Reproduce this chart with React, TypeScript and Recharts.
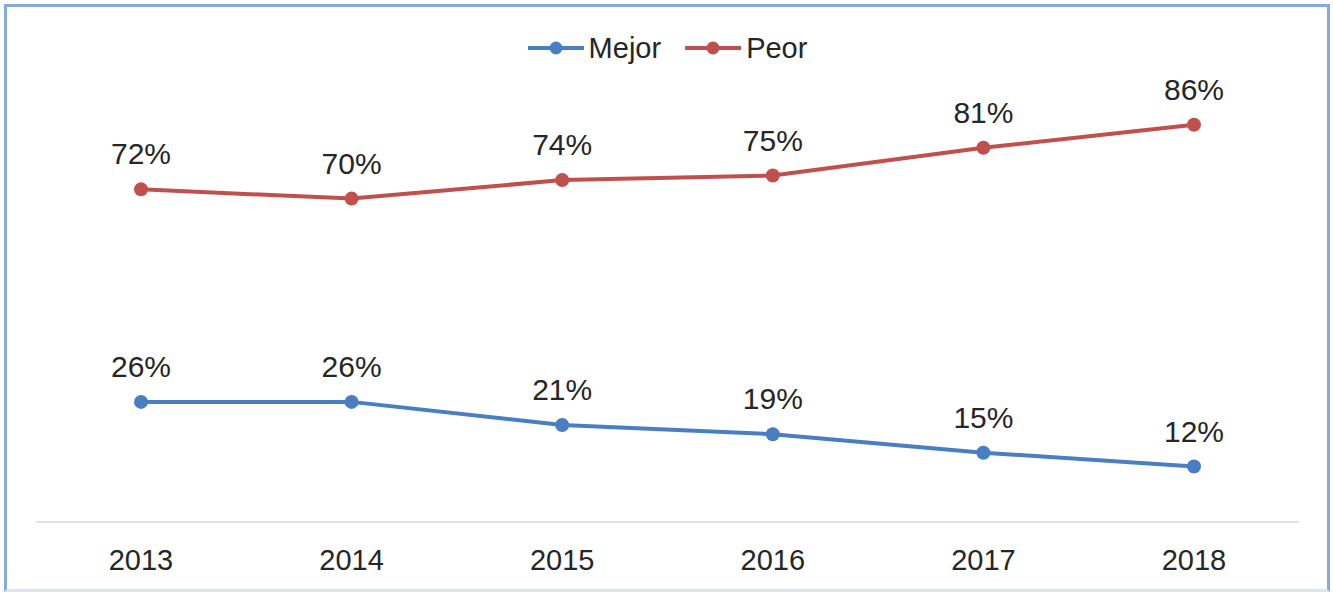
import { LineChart, Line, XAxis, YAxis, Legend, LabelList } from "recharts";

const years = ["2013", "2014", "2015", "2016", "2017", "2018"];
const mejor = [26, 26, 21, 19, 15, 12];
const peor = [72, 70, 74, 75, 81, 86];

const data = years.map((year, i) => ({ year, mejor: mejor[i], peor: peor[i] }));

const FONT = "'Liberation Sans', Arial, sans-serif";
const TEXT = "#262626";

const renderLegend = ({ payload }: any) => (
  <div style={{ display: "flex", justifyContent: "center", gap: 24 }}>
    {(payload ?? []).map((item: any) => (
      <div key={item.value} style={{ display: "flex", alignItems: "center" }}>
        <svg width={56} height={16} style={{ marginRight: 5 }}>
          <line x1={0} y1={8} x2={56} y2={8} stroke={item.color} strokeWidth={4} />
          <circle cx={28} cy={8} r={6.5} fill={item.color} />
        </svg>
        <span style={{ fontFamily: FONT, fontSize: 29, color: TEXT, lineHeight: "34px" }}>
          {item.value}
        </span>
      </div>
    ))}
  </div>
);

export default function App() {
  return (
    <div
      style={{
        position: "absolute",
        left: 0,
        top: 0,
        width: 1333,
        height: 592,
        background: "#fff",
      }}
    >
      <div
        style={{
          position: "absolute",
          left: 4,
          top: 4,
          width: 1326,
          height: 588,
          border: "3px solid #86AADB",
          borderBottomColor: "#dbe5f1",
          boxSizing: "border-box",
        }}
      />
      <LineChart
        width={1333}
        height={592}
        data={data}
        margin={{ top: 60, right: 34, bottom: 0, left: 36 }}
      >
        <XAxis
          dataKey="year"
          padding={{ left: 105, right: 105 }}
          axisLine={{ stroke: "#d9d9d9", strokeWidth: 1.5 }}
          tickLine={false}
          tickMargin={21}
          height={70}
          tick={{ fill: TEXT, fontSize: 29, fontFamily: FONT }}
        />
        <YAxis hide domain={[0, 100]} />
        <Legend
          verticalAlign="middle"
          align="center"
          wrapperStyle={{ top: 31 }}
          content={renderLegend}
        />
        <Line
          name="Mejor"
          dataKey="mejor"
          stroke="#4A7EC2"
          strokeWidth={4}
          dot={{ r: 7, fill: "#4A7EC2", stroke: "none" }}
          isAnimationActive={false}
        >
          <LabelList
            dataKey="mejor"
            position="top"
            offset={25}
            formatter={(v: any) => `${v}%`}
            style={{ fill: TEXT, fontSize: 30, fontFamily: FONT }}
          />
        </Line>
        <Line
          name="Peor"
          dataKey="peor"
          stroke="#C0504D"
          strokeWidth={4}
          dot={{ r: 7, fill: "#C0504D", stroke: "none" }}
          isAnimationActive={false}
        >
          <LabelList
            dataKey="peor"
            position="top"
            offset={25}
            formatter={(v: any) => `${v}%`}
            style={{ fill: TEXT, fontSize: 30, fontFamily: FONT }}
          />
        </Line>
      </LineChart>
    </div>
  );
}
